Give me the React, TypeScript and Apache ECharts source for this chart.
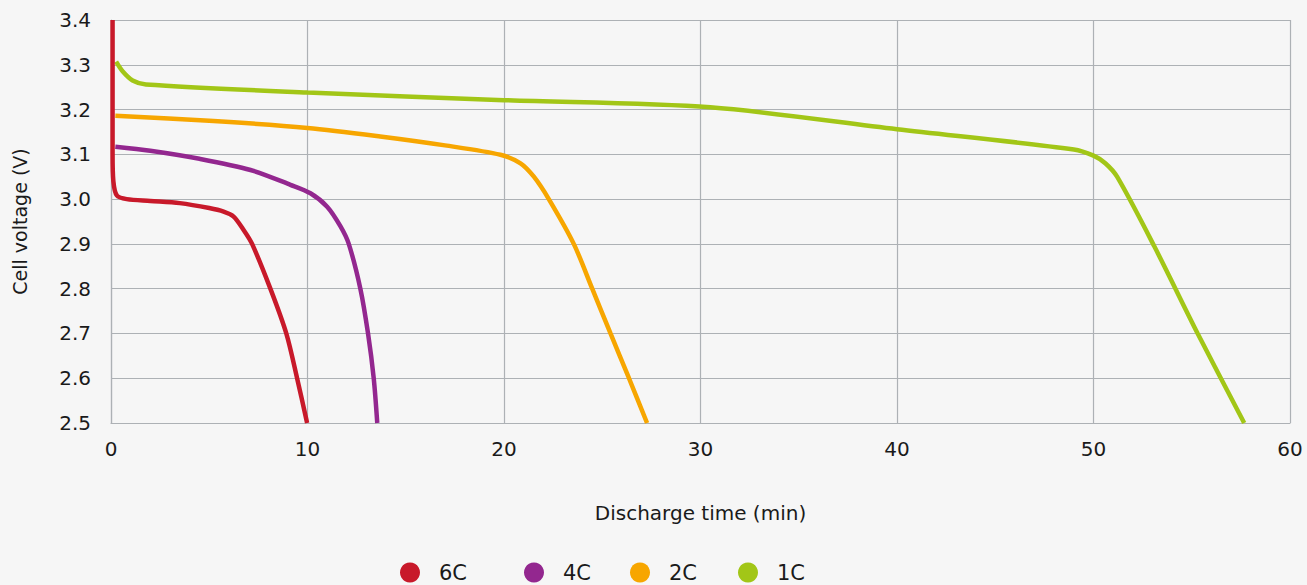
import React, { useEffect, useRef } from "react";
import * as echarts from "echarts";

const seriesNames = ["6C", "4C", "2C", "1C"];
const seriesColors = ["#c8192a", "#93278f", "#f7a600", "#a2c617"];

const data6C: number[][] = [
  [0.08, 3.4], [0.08, 3.1], [0.12, 3.04], [0.3, 3.008], [0.8, 3.0], [2, 2.996],
  [3.5, 2.991], [5.0, 2.98], [5.73, 2.972], [6.24, 2.961], [6.75, 2.931], [7.18, 2.9],
  [8.11, 2.8], [8.92, 2.7], [9.47, 2.6], [9.98, 2.5],
];
const data4C: number[][] = [
  [0.22, 3.117], [2, 3.108], [4.5, 3.09], [7.1, 3.065], [9.13, 3.032], [10.15, 3.013],
  [11.0, 2.983], [11.68, 2.939], [12.1, 2.9], [12.69, 2.8], [13.08, 2.7], [13.37, 2.6],
  [13.55, 2.5],
];
const data2C: number[][] = [
  [0.22, 3.186], [5, 3.175], [10, 3.159], [13.7, 3.14], [17, 3.12], [19.82, 3.099],
  [20.84, 3.08], [21.52, 3.05], [22.28, 3.0], [23.55, 2.9], [24.49, 2.8],
  [25.42, 2.7], [26.36, 2.6], [27.28, 2.5],
];
const data1C: number[][] = [
  [0.26, 3.307], [0.6, 3.285], [1.1, 3.265], [1.78, 3.256], [10, 3.238], [20, 3.221],
  [30.5, 3.205], [40, 3.156], [49.0, 3.111], [50.0, 3.097], [50.6, 3.08], [51.2, 3.05],
  [53.1, 2.894], [55.3, 2.7], [57.67, 2.5],
];
const allData = [data6C, data4C, data2C, data1C];

const xTitle = "Discharge time (min)";
const yTitle = "Cell voltage (V)";
const legendLefts = [395, 519, 625, 733];

export default function App() {
  const ref = useRef<HTMLDivElement>(null);
  useEffect(() => {
    document.body.style.margin = "0";
    document.body.style.background = "#f6f6f6";
    const chart = echarts.init(ref.current!, null, { renderer: "svg" });
    const font = "'DejaVu Sans', 'Liberation Sans', Arial, sans-serif";
    const gridColor = "#adb1b5";
    const ink = "#1a1a1a";
    chart.setOption({
      animation: false,
      backgroundColor: "#f6f6f6",
      textStyle: { fontFamily: font },
      grid: { left: 111, right: 17, top: 20, bottom: 162, containLabel: false },
      legend: seriesNames.map((n, i) => ({
        data: [n],
        left: legendLefts[i],
        top: 557,
        icon: "circle",
        itemWidth: 20,
        itemHeight: 20,
        textStyle: { fontSize: 21, lineHeight: 20, color: ink, fontFamily: font, padding: [0, 0, 0, 14] },
        selectedMode: false,
      })),
      xAxis: {
        type: "value",
        min: 0,
        max: 60,
        interval: 10,
        name: xTitle,
        nameLocation: "middle",
        nameGap: 80,
        nameTextStyle: { fontSize: 20, color: ink, fontFamily: font },
        axisLine: { show: true, lineStyle: { color: gridColor, width: 1.2 } },
        axisTick: { show: false },
        axisLabel: { fontSize: 20, color: ink, margin: 16, fontFamily: font },
        splitLine: { show: true, lineStyle: { color: gridColor, width: 1.2 } },
      },
      yAxis: {
        type: "value",
        min: 2.5,
        max: 3.4,
        interval: 0.1,
        name: yTitle,
        nameLocation: "middle",
        nameGap: 82,
        nameTextStyle: { fontSize: 19, color: ink, fontFamily: font },
        axisLine: { show: true, lineStyle: { color: gridColor, width: 1.2 } },
        axisTick: { show: false },
        axisLabel: {
          fontSize: 20,
          color: ink,
          margin: 20,
          fontFamily: font,
          formatter: (v: number) => v.toFixed(1),
        },
        splitLine: { show: true, lineStyle: { color: gridColor, width: 1.2 } },
      },
      series: seriesNames.map((n, i) => ({
        name: n,
        type: "line",
        data: allData[i],
        showSymbol: false,
        symbol: "circle",
        smooth: 0.3,
        color: seriesColors[i],
        lineStyle: { color: seriesColors[i], width: 4.5 },
        z: 10 - i,
      })),
    });
    return () => chart.dispose();
  }, []);
  return <div ref={ref} style={{ width: 1307, height: 585 }} />;
}
